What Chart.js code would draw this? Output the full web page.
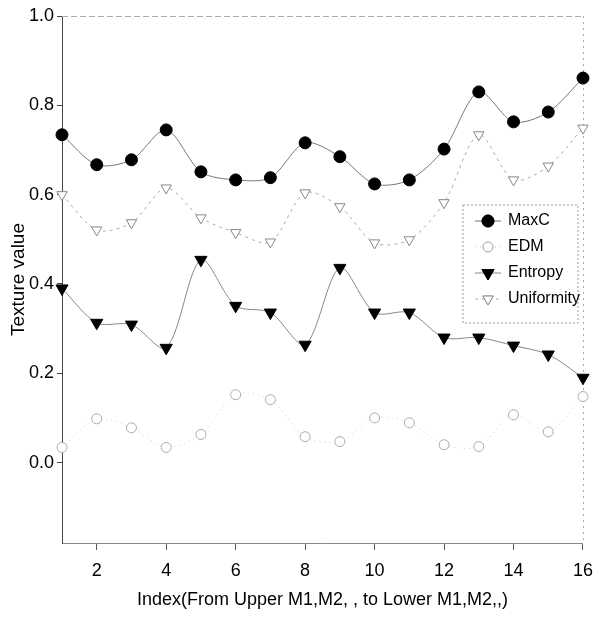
<!DOCTYPE html>
<html>
<head>
<meta charset="utf-8">
<script src="https://cdn.jsdelivr.net/npm/chart.js@4/dist/chart.umd.min.js"></script>
<style>
  html, body { margin: 0; padding: 0; background: #fff; }
  #wrap { width: 603px; height: 632px; }
</style>
</head>
<body>
<div id="wrap"><canvas id="c" width="603" height="632"></canvas></div>
<script>
const index = [1, 2, 3, 4, 5, 6, 7, 8, 9, 10, 11, 12, 13, 14, 15, 16];
const maxC = [0.734, 0.667, 0.678, 0.745, 0.651, 0.633, 0.638, 0.716, 0.685, 0.624, 0.633, 0.702, 0.830, 0.763, 0.785, 0.861];
const edm = [0.034, 0.098, 0.078, 0.034, 0.063, 0.152, 0.141, 0.058, 0.047, 0.100, 0.089, 0.040, 0.036, 0.107, 0.069, 0.148];
const entropy = [0.390, 0.313, 0.309, 0.257, 0.454, 0.351, 0.336, 0.264, 0.436, 0.336, 0.336, 0.280, 0.280, 0.262, 0.242, 0.190];
const uniformity = [0.600, 0.521, 0.537, 0.615, 0.548, 0.515, 0.494, 0.604, 0.573, 0.492, 0.499, 0.582, 0.734, 0.633, 0.664, 0.749];
const xTicks = [2, 4, 6, 8, 10, 12, 14, 16];
const yTicks = [0.0, 0.2, 0.4, 0.6, 0.8, 1.0];

const FONT = '"Liberation Sans", Arial, sans-serif';

function pts(vals) {
  return vals.map((v, i) => ({ x: index[i], y: v }));
}

// legend drawn inside the plot, like the original figure
const boxLegend = {
  id: 'boxLegend',
  afterDraw(chart) {
    const ctx = chart.ctx;
    const x0 = 463, y0 = 205, w = 115, h = 118;
    ctx.save();
    ctx.strokeStyle = '#999';
    ctx.lineWidth = 1;
    ctx.setLineDash([2, 2]);
    ctx.strokeRect(x0, y0, w, h);
    ctx.setLineDash([]);
    chart.data.datasets.forEach((ds, i) => {
      const cy = y0 + 16 + i * 26;
      const cx = x0 + 25;
      ctx.strokeStyle = ds.borderColor;
      ctx.lineWidth = 1;
      ctx.setLineDash(ds.borderDash || []);
      ctx.beginPath();
      ctx.moveTo(cx - 13, cy);
      ctx.lineTo(cx + 13, cy);
      ctx.stroke();
      ctx.setLineDash([]);
      Chart.helpers.drawPoint(ctx, {
        pointStyle: ds.pointStyle,
        radius: ds.pointRadius,
        rotation: ds.pointRotation || 0,
        borderWidth: ds.pointBorderWidth
      }, cx, cy);
      ctx.fillStyle = ds.pointBackgroundColor;
      ctx.strokeStyle = ds.pointBorderColor;
      ctx.lineWidth = ds.pointBorderWidth;
      ctx.fill();
      ctx.stroke();
      ctx.fillStyle = '#000';
      ctx.font = '16px ' + FONT;
      ctx.textBaseline = 'middle';
      ctx.fillText(ds.label, x0 + 45, cy);
    });
    ctx.restore();
  }
};

// faint top and right frame
const frame = {
  id: 'frame',
  beforeDatasetsDraw(chart) {
    const a = chart.chartArea, ctx = chart.ctx;
    ctx.save();
    ctx.strokeStyle = '#aaa';
    ctx.lineWidth = 1;
    ctx.setLineDash([6, 3]);
    ctx.beginPath();
    ctx.moveTo(a.left, a.top + 0.5);
    ctx.lineTo(a.right, a.top + 0.5);
    ctx.stroke();
    ctx.setLineDash([2, 4]);
    ctx.beginPath();
    ctx.moveTo(a.right + 0.5, a.top);
    ctx.lineTo(a.right + 0.5, a.bottom);
    ctx.stroke();
    ctx.restore();
  }
};

new Chart(document.getElementById('c'), {
  type: 'line',
  data: {
    datasets: [
      {
        label: 'MaxC', data: pts(maxC),
        borderColor: '#777', borderWidth: 1, tension: 0.3,
        pointStyle: 'circle', pointRadius: 6,
        pointBackgroundColor: '#000', pointBorderColor: '#000', pointBorderWidth: 1
      },
      {
        label: 'EDM', data: pts(edm),
        borderColor: '#ccc', borderWidth: 1, borderDash: [1, 4], tension: 0.3,
        pointStyle: 'circle', pointRadius: 5,
        pointBackgroundColor: '#fff', pointBorderColor: '#aaa', pointBorderWidth: 1
      },
      {
        label: 'Entropy', data: pts(entropy),
        borderColor: '#888', borderWidth: 1, tension: 0.3,
        pointStyle: 'triangle', pointRadius: 7, pointRotation: 180,
        pointBackgroundColor: '#000', pointBorderColor: '#000', pointBorderWidth: 1
      },
      {
        label: 'Uniformity', data: pts(uniformity),
        borderColor: '#aaa', borderWidth: 1, borderDash: [3, 4], tension: 0.3,
        pointStyle: 'triangle', pointRadius: 6, pointRotation: 180,
        pointBackgroundColor: '#fff', pointBorderColor: '#888', pointBorderWidth: 1
      }
    ]
  },
  options: {
    responsive: false,
    animation: false,
    clip: false,
    layout: { padding: { left: 0, top: 16, right: 13, bottom: 0 } },
    plugins: { legend: { display: false }, tooltip: { enabled: false } },
    scales: {
      x: {
        type: 'linear', min: 1, max: 16,
        afterBuildTicks: s => { s.ticks = xTicks.map(v => ({ value: v })); },
        afterFit: s => { s.height = 89; },
        grid: { drawOnChartArea: false, drawTicks: true, tickLength: 7, color: '#555' },
        border: { color: '#888', dash: [8, 3] },
        ticks: { color: '#000', padding: 10, font: { family: FONT, size: 18 } },
        title: {
          display: true, text: 'Index(From Upper M1,M2, , to Lower M1,M2,,)',
          color: '#000', font: { family: FONT, size: 18 }, padding: { top: 0, bottom: 21 }
        }
      },
      y: {
        min: -0.18, max: 1.0,
        afterBuildTicks: s => { s.ticks = yTicks.map(v => ({ value: v })); },
        afterFit: s => { s.width = 62; },
        grid: { drawOnChartArea: false, drawTicks: true, tickLength: 5, color: '#444' },
        border: { color: '#444' },
        ticks: {
          color: '#000', padding: 3,
          font: { family: FONT, size: 18 },
          callback: v => v.toFixed(1)
        },
        title: {
          display: true, text: 'Texture value',
          color: '#000', font: { family: FONT, size: 19 }, padding: { top: 7, bottom: 0 }
        }
      }
    }
  },
  plugins: [frame, boxLegend]
});
</script>
</body>
</html>
